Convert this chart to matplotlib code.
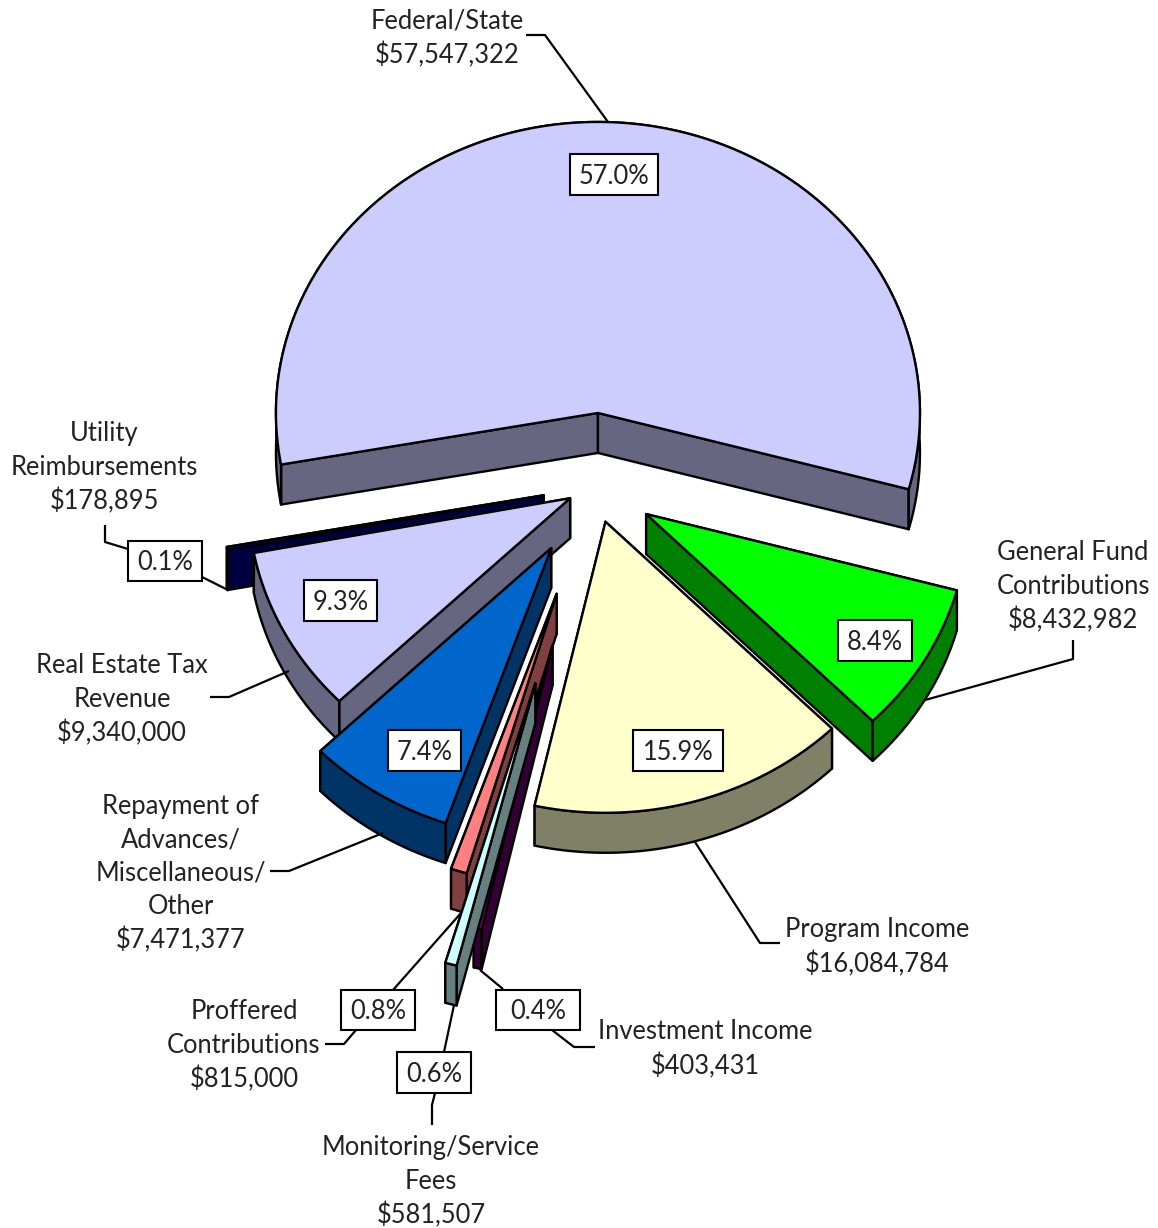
import numpy as np
import matplotlib
matplotlib.use('Agg')
import matplotlib.pyplot as plt
from matplotlib.patches import Polygon, Rectangle

plt.rcParams['font.family'] = ['Lato', 'DejaVu Sans']

# slices, clockwise from the right side of the pie
names = ['General Fund\nContributions', 'Program Income', 'Investment Income',
         'Monitoring/Service\nFees', 'Proffered\nContributions',
         'Repayment of\nAdvances/\nMiscellaneous/\nOther', 'Real Estate Tax\nRevenue',
         'Utility\nReimbursements', 'Federal/State']
amounts = [8432982, 16084784, 403431, 581507, 815000, 7471377, 9340000, 178895, 57547322]
percents = [8.4, 15.9, 0.4, 0.6, 0.8, 7.4, 9.3, 0.1, 57.0]
explode = [0.186, 0.125, 0.56, 0.70, 0.386, 0.25, 0.085, 0.16, 0.254]
top_colors = ['#00FF00', '#FFFFCC', '#800080', '#CCFFFF', '#FF8080', '#0066CC', '#CCCCFF', '#000080', '#CCCCFF']
side_colors = ['#008000', '#808066', '#330033', '#668080', '#804040', '#003366', '#666680', '#000040', '#666680']
draw_order = [8, 0, 1, 7, 6, 5, 4, 2, 3]

# layout in pixels
cx, cy = 594.4, 486.8
rx, ry = 322, 291
depth = 40
start_angle = -15.2

label_pos = [(1073, 587), (877, 947), (705, 1049), (431, 1182), (244, 1046),
             (181, 874), (122, 700), (104, 468), (447, 38)]
# left, right, top, bottom of the percent boxes
boxes = [(838, 912, 620, 661), (633, 723, 730, 771), (496, 580, 990, 1030),
         (397, 471, 1052, 1093), (341, 415, 990, 1030), (388, 461, 730, 771),
         (304, 377, 580, 621), (128, 202, 541, 581), (570, 658, 154, 195)]
leaders = [
    [(1073, 640), (1073, 659), (925, 700)],
    [(780, 943), (760, 943), (695, 842)],
    [(595, 1047), (574, 1047), (552, 1030)],
    [(480, 970), (503, 989)],
    [(432, 1125), (432, 1105), (435, 1093)],
    [(444, 1052), (454, 1005)],
    [(325, 1044), (344, 1044), (356, 1030)],
    [(393, 990), (461, 913)],
    [(270, 871), (289, 871), (383, 833)],
    [(210, 697), (229, 697), (289, 671)],
    [(105, 525), (105, 542), (128, 549)],
    [(202, 577), (228, 590)],
    [(526, 35), (545, 35), (608, 122)],
]

fig = plt.figure(figsize=(11.58, 12.28), dpi=100)
ax = fig.add_axes([0, 0, 1, 1])
ax.set_xlim(0, 1158)
ax.set_ylim(1228, 0)
ax.axis('off')

spans = np.array(amounts) / sum(amounts) * 360
ends = start_angle - np.cumsum(spans)
starts = ends + spans

lw = 1.7
for i in draw_order:
    mid = np.radians((starts[i] + ends[i]) / 2)
    ax0 = cx + explode[i] * rx * np.cos(mid)
    ay0 = cy - explode[i] * ry * np.sin(mid)
    t = np.radians(np.linspace(starts[i], ends[i], max(int(spans[i] * 2), 2)))
    arc = np.column_stack([ax0 + rx * np.cos(t), ay0 - ry * np.sin(t)])
    down = np.array([0, depth])
    apex = np.array([ax0, ay0])

    z = 2 + draw_order.index(i)
    kw = dict(facecolor=side_colors[i], edgecolor='black', linewidth=lw, joinstyle='round', zorder=z)
    # radial walls, the one nearer the viewer last
    for p in sorted((arc[0], arc[-1]), key=lambda q: q[1]):
        ax.add_patch(Polygon([apex, p, p + down, apex + down], **kw))
    # outer wall
    ax.add_patch(Polygon(np.vstack([arc, (arc + down)[::-1]]), **kw))
    # top face
    ax.add_patch(Polygon(np.vstack([apex, arc]), facecolor=top_colors[i], edgecolor='black',
                         linewidth=lw, joinstyle='round', zorder=z))

for pts in leaders:
    xs, ys = zip(*pts)
    ax.plot(xs, ys, color='black', lw=1.6, zorder=20, solid_capstyle='butt')

for i in range(len(names)):
    ax.text(label_pos[i][0], label_pos[i][1], names[i] + '\n$' + format(amounts[i], ','),
            ha='center', va='center', fontsize=18.4, color='#222222', linespacing=1.41, zorder=21)
    x0, x1, y0, y1 = boxes[i]
    ax.add_patch(Rectangle((x0, y0), x1 - x0, y1 - y0, facecolor='white', edgecolor='black',
                           linewidth=1.5, zorder=22))
    ax.text((x0 + x1) / 2, (y0 + y1) / 2 + 1.5, '%.1f%%' % percents[i], ha='center', va='center',
            fontsize=18.4, color='#222222', zorder=23)

fig.savefig('out.png', dpi=100)
